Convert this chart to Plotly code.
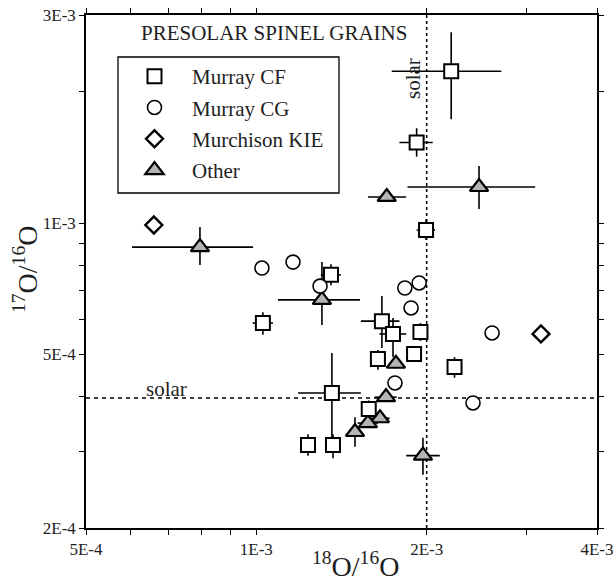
import numpy as np
import plotly.graph_objects as go

# ---------------- data ----------------
# Murray CF (squares)
cf_x = [2.21e-3, 1.92e-3, 1.995e-3, 1.667e-3, 1.744e-3, 1.95e-3, 1.64e-3, 1.90e-3,
        2.24e-3, 1.36e-3, 1.234e-3, 1.366e-3, 1.58e-3, 1.355e-3, 1.027e-3]
cf_y = [2.23e-3, 1.53e-3, 9.64e-4, 5.96e-4, 5.57e-4, 5.63e-4, 4.88e-4, 5.01e-4,
        4.68e-4, 4.08e-4, 3.10e-4, 3.10e-4, 3.75e-4, 7.61e-4, 5.90e-4]
cf_x_lo = [1.735e-3, 1.79e-3, 1.92e-3, 1.53e-3, 1.65e-3, 1.95e-3, 1.64e-3, 1.90e-3,
           2.24e-3, 1.185e-3, 1.234e-3, 1.366e-3, 1.58e-3, 1.30e-3, 0.985e-3]
cf_x_hi = [2.71e-3, 2.05e-3, 2.07e-3, 1.79e-3, 1.84e-3, 1.95e-3, 1.64e-3, 1.90e-3,
           2.24e-3, 1.53e-3, 1.234e-3, 1.366e-3, 1.58e-3, 1.41e-3, 1.07e-3]
cf_y_lo = [1.73e-3, 1.42e-3, 9.15e-4, 5.17e-4, 4.93e-4, 5.37e-4, 4.61e-4, 5.01e-4,
           4.42e-4, 3.18e-4, 2.93e-4, 2.89e-4, 3.58e-4, 7.20e-4, 5.55e-4]
cf_y_hi = [2.74e-3, 1.65e-3, 1.02e-3, 6.81e-4, 6.06e-4, 5.90e-4, 5.12e-4, 5.01e-4,
           4.93e-4, 5.04e-4, 3.28e-4, 3.28e-4, 3.92e-4, 8.05e-4, 6.25e-4]

# Murray CG (circles)
cg_x = [1.023e-3, 1.161e-3, 1.296e-3, 1.83e-3, 1.94e-3, 1.877e-3, 1.758e-3, 2.415e-3, 2.61e-3]
cg_y = [7.89e-4, 8.14e-4, 7.17e-4, 7.10e-4, 7.29e-4, 6.39e-4, 4.30e-4, 3.87e-4, 5.60e-4]

# Murchison KIE (diamonds)
kie_x = [6.59e-4, 3.185e-3]
kie_y = [9.90e-4, 5.57e-4]

# Other (triangles)
ot_x = [7.95e-4, 1.70e-3, 2.475e-3, 1.306e-3, 1.765e-3, 1.695e-3, 1.654e-3, 1.575e-3, 1.494e-3, 1.97e-3]
ot_y = [8.81e-4, 1.148e-3, 1.21e-3, 6.67e-4, 4.76e-4, 3.99e-4, 3.57e-4, 3.48e-4, 3.32e-4, 2.93e-4]
ot_x_lo = [6.03e-4, 1.575e-3, 1.85e-3, 1.092e-3, 1.765e-3, 1.62e-3, 1.59e-3, 1.51e-3, 1.494e-3, 1.84e-3]
ot_x_hi = [9.87e-4, 1.84e-3, 3.11e-3, 1.525e-3, 1.765e-3, 1.77e-3, 1.72e-3, 1.64e-3, 1.494e-3, 2.11e-3]
ot_y_lo = [8.02e-4, 1.148e-3, 1.077e-3, 5.84e-4, 4.76e-4, 3.99e-4, 3.57e-4, 3.48e-4, 3.07e-4, 2.65e-4]
ot_y_hi = [9.80e-4, 1.148e-3, 1.352e-3, 8.14e-4, 4.76e-4, 3.99e-4, 3.57e-4, 3.48e-4, 3.59e-4, 3.22e-4]

# solar reference values
solar_x = 2.0e-3
solar_y = 3.97e-4

# axes
x_range = [5e-4, 4e-3]
y_range = [2e-4, 3e-3]
x_tickvals = [5e-4, 6e-4, 7e-4, 8e-4, 9e-4, 1e-3, 2e-3, 3e-3, 4e-3]
x_ticktext = ["5E-4", "", "", "", "", "1E-3", "2E-3", "", "4E-3"]
y_tickvals = [2e-4, 3e-4, 4e-4, 5e-4, 6e-4, 7e-4, 8e-4, 9e-4, 1e-3, 2e-3, 3e-3]
y_ticktext = ["2E-4", "", "", "5E-4", "", "", "", "", "1E-3", "", "3E-3"]

SERIF = "Liberation Serif, Times New Roman, serif"
TXT = "#1e1e1e"

# layout geometry (pixels in the 615x582 figure)
L, R, T, B = 86, 18, 15, 54
PW, PH = 615 - L - R, 582 - T - B


def px(xp):
    return (xp - L) / PW


def py(yp):
    return (582 - B - yp) / PH


def errs(v, lo, hi):
    v = np.array(v); lo = np.array(lo); hi = np.array(hi)
    return (hi - v).tolist(), (v - lo).tolist()


fig = go.Figure()

# solar lines
fig.add_trace(go.Scatter(x=[solar_x, solar_x], y=y_range, mode="lines",
                         line=dict(color="black", width=1.5, dash="3px,3px"),
                         showlegend=False, hoverinfo="skip"))
fig.add_trace(go.Scatter(x=x_range, y=[solar_y, solar_y], mode="lines",
                         line=dict(color="black", width=1.5, dash="4px,4px"),
                         showlegend=False, hoverinfo="skip"))

ebar = dict(color="black", thickness=1.6, width=0)

# Other (triangles)
p, m = errs(ot_x, ot_x_lo, ot_x_hi)
pY, mY = errs(ot_y, ot_y_lo, ot_y_hi)
fig.add_trace(go.Scatter(
    x=ot_x, y=ot_y, mode="markers", name="Other", legendrank=4, legendgroup="d",
    marker=dict(symbol="triangle-up", size=16, color="#b4b4b4",
                line=dict(color="black", width=2.2)),
    error_x=dict(type="data", symmetric=False, array=p, arrayminus=m, **ebar),
    error_y=dict(type="data", symmetric=False, array=pY, arrayminus=mY, **ebar)))

# Murray CF (squares)
p, m = errs(cf_x, cf_x_lo, cf_x_hi)
pY, mY = errs(cf_y, cf_y_lo, cf_y_hi)
fig.add_trace(go.Scatter(
    x=cf_x, y=cf_y, mode="markers", name="Murray CF", legendrank=1, legendgroup="a",
    marker=dict(symbol="square", size=14, color="white",
                line=dict(color="black", width=2)),
    error_x=dict(type="data", symmetric=False, array=p, arrayminus=m, **ebar),
    error_y=dict(type="data", symmetric=False, array=pY, arrayminus=mY, **ebar)))

# Murray CG (circles)
fig.add_trace(go.Scatter(
    x=cg_x, y=cg_y, mode="markers", name="Murray CG", legendrank=2, legendgroup="b",
    marker=dict(symbol="circle", size=14, color="white",
                line=dict(color="black", width=1.6))))

# Murchison KIE (diamonds)
fig.add_trace(go.Scatter(
    x=kie_x, y=kie_y, mode="markers", name="Murchison KIE", legendrank=3, legendgroup="c",
    marker=dict(symbol="diamond", size=13, color="white",
                line=dict(color="black", width=2.4))))

axis_common = dict(type="log", showline=True, linecolor="black", linewidth=1.5,
                   mirror="ticks", ticks="outside", ticklen=5, tickwidth=1.3,
                   tickcolor="black", showgrid=False, zeroline=False,
                   automargin=False,
                   tickfont=dict(family=SERIF, size=17, color=TXT))

fig.update_layout(
    template="none",
    width=615, height=582,
    margin=dict(l=L, r=R, t=T, b=B, pad=0),
    paper_bgcolor="white", plot_bgcolor="white",
    xaxis=dict(range=list(np.log10(x_range)), tickmode="array",
               tickvals=x_tickvals, ticktext=x_ticktext, **axis_common),
    yaxis=dict(range=list(np.log10(y_range)), tickmode="array",
               tickvals=y_tickvals, ticktext=y_ticktext, **axis_common),
    legend=dict(x=px(117), y=py(56), xanchor="left", yanchor="top",
                borderwidth=0, bgcolor="rgba(0,0,0,0)",
                font=dict(family=SERIF, size=21, color=TXT),
                itemwidth=65, tracegroupgap=1),
    showlegend=True,
    shapes=[dict(type="rect", xref="paper", yref="paper",
                 x0=px(118), x1=px(339), y0=py(193), y1=py(57),
                 line=dict(color="black", width=1.3), fillcolor="rgba(0,0,0,0)",
                 layer="above")],
    annotations=[
        dict(text="PRESOLAR SPINEL GRAINS", xref="paper", yref="paper",
             x=px(274), y=py(33), xanchor="center", yanchor="middle", showarrow=False,
             font=dict(family=SERIF, size=21, color=TXT)),
        dict(text="solar", xref="paper", yref="paper",
             x=px(166), y=py(389), xanchor="center", yanchor="middle", showarrow=False,
             font=dict(family=SERIF, size=21, color=TXT)),
        dict(text="solar", xref="paper", yref="paper", textangle=-90,
             x=px(413), y=py(79), xanchor="center", yanchor="middle", showarrow=False,
             font=dict(family=SERIF, size=21, color=TXT)),
        dict(text="<sup>18</sup>O/<sup>16</sup>O", xref="paper", yref="paper",
             x=px(355), y=py(564), xanchor="center", yanchor="middle", showarrow=False,
             font=dict(family=SERIF, size=28, color=TXT)),
        dict(text="<sup>17</sup>O/<sup>16</sup>O", xref="paper", yref="paper",
             textangle=-90, x=px(25), y=py(270), xanchor="center", yanchor="middle",
             showarrow=False, font=dict(family=SERIF, size=28, color=TXT)),
    ],
)

fig.write_html("out.html")
